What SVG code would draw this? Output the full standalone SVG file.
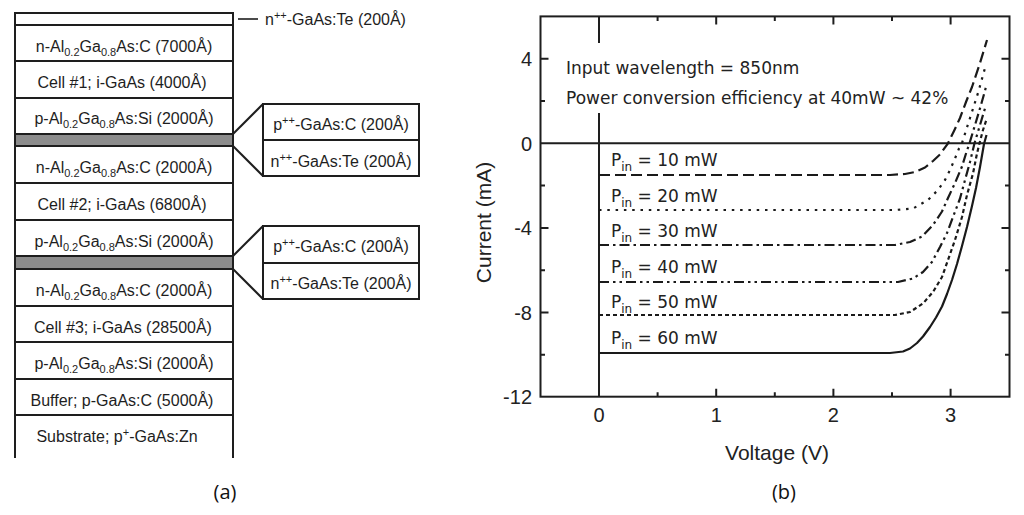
<svg xmlns="http://www.w3.org/2000/svg" width="1024" height="515" viewBox="0 0 1024 515">
<style>
.lay{fill:#fff;stroke:#1e1e1e;stroke-width:2}
.tj{fill:#8c8c8c;stroke:#1e1e1e;stroke-width:2}
.ln{fill:none;stroke:#1e1e1e;stroke-width:2}
.t{font-family:"Liberation Sans",Arial,sans-serif;font-size:16px;fill:#1e1e1e}
.c{text-anchor:middle}
.s{font-size:11px}
.d{font-family:"DejaVu Sans",Verdana,sans-serif;font-size:17px;fill:#222}
.ds{font-size:12px}
.tk{font-family:"Liberation Sans",Arial,sans-serif;font-size:20px;fill:#222}
.ax{font-family:"Liberation Sans",Arial,sans-serif;font-size:21px;fill:#222}
.cap{font-family:"Open Sans","Liberation Sans",Arial,sans-serif;font-size:20px;fill:#111;text-anchor:middle}
.cv{fill:none;stroke:#1a1a1a;stroke-width:2.2;stroke-linejoin:round}
</style>

<!-- (a) layer stack -->
<g id="layer-top"><rect class="lay" x="15" y="13" width="218" height="12"/></g>
<g id="layer-1"><rect class="lay" x="15" y="25" width="218" height="36"/>
<text class="t c" x="124" y="52">n-Al<tspan class="s" dy="4">0.2</tspan><tspan dy="-4">Ga</tspan><tspan class="s" dy="4">0.8</tspan><tspan dy="-4">As:C (7000Å)</tspan></text></g>
<g id="layer-2"><rect class="lay" x="15" y="61" width="218" height="37"/>
<text class="t c" x="122" y="88">Cell #1; i-GaAs (4000Å)</text></g>
<g id="layer-3"><rect class="lay" x="15" y="98" width="218" height="36"/>
<text class="t c" x="124" y="124">p-Al<tspan class="s" dy="4">0.2</tspan><tspan dy="-4">Ga</tspan><tspan class="s" dy="4">0.8</tspan><tspan dy="-4">As:Si (2000Å)</tspan></text></g>
<g id="tunnel-1"><rect class="tj" x="15" y="134" width="218" height="12"/></g>
<g id="layer-4"><rect class="lay" x="15" y="146" width="218" height="37"/>
<text class="t c" x="124" y="173">n-Al<tspan class="s" dy="4">0.2</tspan><tspan dy="-4">Ga</tspan><tspan class="s" dy="4">0.8</tspan><tspan dy="-4">As:C (2000Å)</tspan></text></g>
<g id="layer-5"><rect class="lay" x="15" y="183" width="218" height="37"/>
<text class="t c" x="122" y="210">Cell #2; i-GaAs (6800Å)</text></g>
<g id="layer-6"><rect class="lay" x="15" y="220" width="218" height="36"/>
<text class="t c" x="124" y="247">p-Al<tspan class="s" dy="4">0.2</tspan><tspan dy="-4">Ga</tspan><tspan class="s" dy="4">0.8</tspan><tspan dy="-4">As:Si (2000Å)</tspan></text></g>
<g id="tunnel-2"><rect class="tj" x="15" y="256" width="218" height="13"/></g>
<g id="layer-7"><rect class="lay" x="15" y="269" width="218" height="37"/>
<text class="t c" x="124" y="296">n-Al<tspan class="s" dy="4">0.2</tspan><tspan dy="-4">Ga</tspan><tspan class="s" dy="4">0.8</tspan><tspan dy="-4">As:C (2000Å)</tspan></text></g>
<g id="layer-8"><rect class="lay" x="15" y="306" width="218" height="36"/>
<text class="t c" x="123" y="333">Cell #3; i-GaAs (28500Å)</text></g>
<g id="layer-9"><rect class="lay" x="15" y="342" width="218" height="37"/>
<text class="t c" x="124" y="369">p-Al<tspan class="s" dy="4">0.2</tspan><tspan dy="-4">Ga</tspan><tspan class="s" dy="4">0.8</tspan><tspan dy="-4">As:Si (2000Å)</tspan></text></g>
<g id="layer-10"><rect class="lay" x="15" y="379" width="218" height="36"/>
<text class="t c" x="122" y="406">Buffer; p-GaAs:C (5000Å)</text></g>
<g id="substrate"><path class="ln" d="M15,458 V415 H233 V458"/>
<text class="t c" x="117" y="442">Substrate; p<tspan class="s" dy="-6">+</tspan><tspan dy="6">-GaAs:Zn</tspan></text></g>

<g id="label-top-contact">
<text class="t" x="265" y="25">n<tspan class="s" dy="-6">++</tspan><tspan dy="6">-GaAs:Te (200Å)</tspan></text></g>

<g id="tj1-detail">
<rect class="lay" x="263" y="104" width="156" height="36"/>
<rect class="lay" x="263" y="140" width="156" height="36"/>
<text class="t c" x="341" y="130">p<tspan class="s" dy="-6">++</tspan><tspan dy="6">-GaAs:C (200Å)</tspan></text>
<text class="t c" x="341" y="167">n<tspan class="s" dy="-6">++</tspan><tspan dy="6">-GaAs:Te (200Å)</tspan></text>
</g>
<g id="tj2-detail">
<rect class="lay" x="263" y="226" width="156" height="37"/>
<rect class="lay" x="263" y="263" width="156" height="36"/>
<text class="t c" x="341" y="252">p<tspan class="s" dy="-6">++</tspan><tspan dy="6">-GaAs:C (200Å)</tspan></text>
<text class="t c" x="341" y="289">n<tspan class="s" dy="-6">++</tspan><tspan dy="6">-GaAs:Te (200Å)</tspan></text>
</g>

<g id="connectors" class="ln">
<path d="M238,19 H258" stroke-width="1.6"/>
<path d="M233,134 L263,104"/>
<path d="M233,146 L263,176"/>
<path d="M233,256 L263,226"/>
<path d="M233,269 L263,299"/>
</g>

<text class="cap" x="225" y="499">(a)</text>

<!-- (b) I-V chart -->
<g id="chart">
<rect x="540.5" y="16.4" width="469" height="380.3" fill="none" stroke="#1e1e1e" stroke-width="2"/>
<path class="ln" d="M540.5,143.3 H1009.5 M599,16.4 V43 M599,113 V396.7"/>
<path class="ln" d="M716.2,396.7 v-8 M833.4,396.7 v-8 M950.6,396.7 v-8 M657.6,396.7 v-4.5 M774.8,396.7 v-4.5 M892,396.7 v-4.5
M716.2,16.4 v8 M833.4,16.4 v8 M950.6,16.4 v8 M657.6,16.4 v4.5 M774.8,16.4 v4.5 M892,16.4 v4.5
M540.5,58.7 h8 M540.5,227.9 h8 M540.5,312.5 h8 M540.5,101 h4.5 M540.5,185.6 h4.5 M540.5,270.2 h4.5 M540.5,354.8 h4.5
M1009.5,58.7 h-8 M1009.5,227.9 h-8 M1009.5,312.5 h-8 M1009.5,101 h-4.5 M1009.5,185.6 h-4.5 M1009.5,270.2 h-4.5 M1009.5,354.8 h-4.5"/>

<g class="tk" text-anchor="end">
<text x="532" y="66">4</text>
<text x="532" y="150.5">0</text>
<text x="532" y="235">-4</text>
<text x="532" y="319.5">-8</text>
<text x="532" y="404">-12</text>
</g>
<g class="tk" text-anchor="middle">
<text x="599" y="422">0</text>
<text x="716.2" y="422">1</text>
<text x="833.4" y="422">2</text>
<text x="950.6" y="422">3</text>
</g>
<text class="ax" x="777" y="460" text-anchor="middle">Voltage (V)</text>
<text class="ax" transform="translate(491,222.5) rotate(-90)" text-anchor="middle">Current (mA)</text>

<text class="d" x="566" y="74">Input wavelength = 850nm</text>
<text class="d" x="566" y="104">Power conversion efficiency at 40mW ~ 42%</text>

<g id="curves">
<polyline class="cv" stroke-dasharray="11 5" points="599,175 890,175 905,174 915,172 925,167.5 933,161 940,154.5 948,143.3 954,131 960,118 966,102 972,87 980,63 987,40"/>
<polyline class="cv" stroke-dasharray="2.5 5.8" points="599,210 895,210 913,208.5 928,200 938,190 945,180 950,170 955,158.5 959,148.5 962,143 970,118 978,93 985,68"/>
<polyline class="cv" stroke-dasharray="10 4 2.5 4" points="599,245 895,245 910,242 922,236.5 933,225 942,211.5 948,198 955,183 962,166.5 966,153.5 969.5,143.3 975,125 981,105 986,87"/>
<polyline class="cv" stroke-dasharray="10 4 2.5 4 2.5 4" points="599,282 898,282 913,278.5 923,272 932,262 940,247 947,233 953,217 960,198.5 965,180 970,162 974.5,143.3 980,125 986,105"/>
<polyline class="cv" stroke-dasharray="4 3" points="599,315 895,315 910,312 923,303.5 933,292 942,277 948,260 955,240 962,217 967,195 973,173.5 977,153.5 979.5,143.3 983,130 987,118"/>
<polyline class="cv" points="599,353 890,353 903,351.5 910,348.5 917,343 923,336.5 930,327 936,317.5 942,306.5 947,294 952,280 957,264 962,246 967,227 972,206 976,188 980,167 984,144 986.5,135"/>
</g>

<g class="d">
<text x="611" y="166">P<tspan class="ds" dy="5">in</tspan><tspan dy="-5"> = 10 mW</tspan></text>
<text x="611" y="201.5">P<tspan class="ds" dy="5">in</tspan><tspan dy="-5"> = 20 mW</tspan></text>
<text x="611" y="237">P<tspan class="ds" dy="5">in</tspan><tspan dy="-5"> = 30 mW</tspan></text>
<text x="611" y="272.5">P<tspan class="ds" dy="5">in</tspan><tspan dy="-5"> = 40 mW</tspan></text>
<text x="611" y="308">P<tspan class="ds" dy="5">in</tspan><tspan dy="-5"> = 50 mW</tspan></text>
<text x="611" y="343.5">P<tspan class="ds" dy="5">in</tspan><tspan dy="-5"> = 60 mW</tspan></text>
</g>
</g>

<text class="cap" x="784" y="499">(b)</text>
</svg>
